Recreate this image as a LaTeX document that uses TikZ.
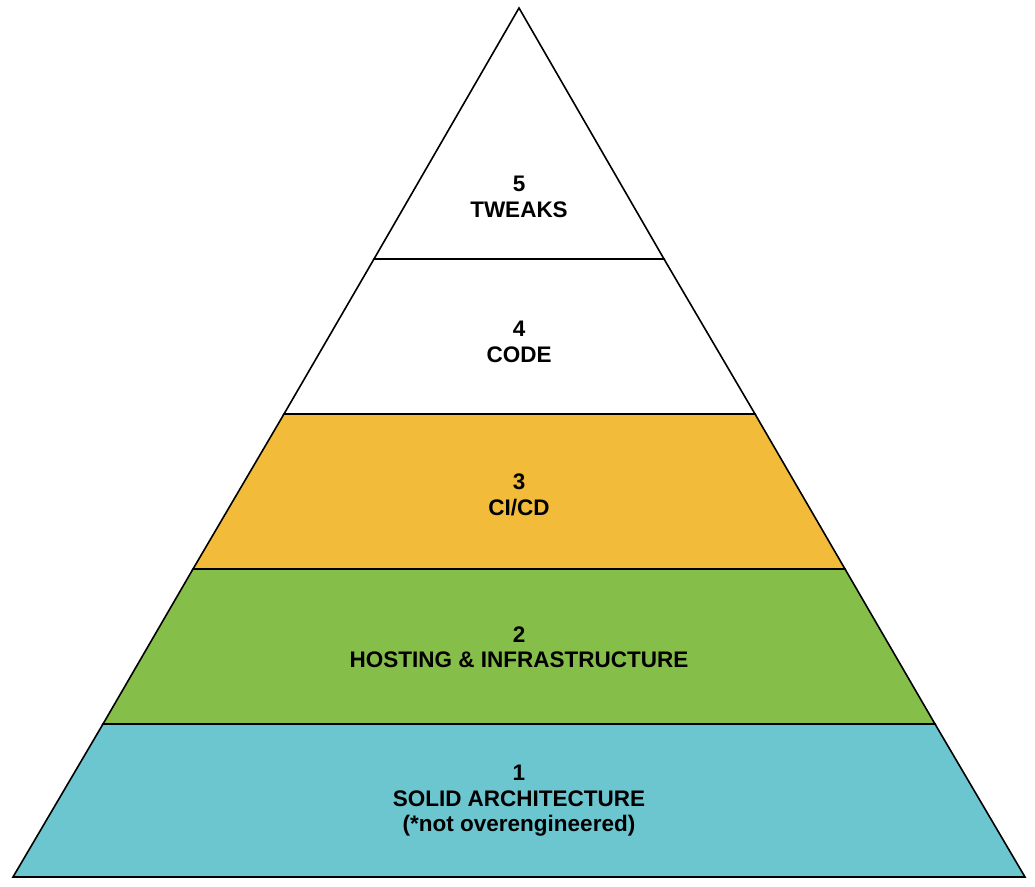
\documentclass[tikz,border=0pt]{standalone}
\usepackage{fontspec}
\setmainfont{Liberation Sans}
\definecolor{cyanL}{HTML}{6BC6D0}
\definecolor{greenL}{HTML}{86BE4A}
\definecolor{yellowL}{HTML}{F2BC3A}
\begin{document}
\begin{tikzpicture}[x=1pt,y=-1pt,
  layer/.style={draw=black,line width=1.6pt,line join=miter},
  lbl/.style={align=center,font=\fontsize{22.5}{25.5}\selectfont\bfseries,inner sep=0pt}]
\useasboundingbox (0,0) rectangle (1035,886);
% layer 1
\filldraw[layer,fill=cyanL] (103,724) -- (935,724) -- (1025,877) -- (13,877) -- cycle;
% layer 2
\filldraw[layer,fill=greenL] (193,569) -- (845,569) -- (935,724) -- (103,724) -- cycle;
% layer 3
\filldraw[layer,fill=yellowL] (284,414) -- (755,414) -- (845,569) -- (193,569) -- cycle;
% layer 4
\filldraw[layer,fill=white] (374,259) -- (664,259) -- (755,414) -- (284,414) -- cycle;
% layer 5
\filldraw[layer,fill=white] (519,8) -- (664,259) -- (374,259) -- cycle;
\node[lbl] (t5) at (519,197) {5\\TWEAKS};
\node[lbl] (t4) at (519,342) {4\\CODE};
\node[lbl] (t3) at (519,495) {3\\CI/CD};
\node[lbl] (t2) at (519,647) {2\\HOSTING \& INFRASTRUCTURE};
\node[lbl] (t1) at (519,801) {1\\SOLID ARCHITECTURE\\(*not overengineered)};
\end{tikzpicture}
\end{document}
